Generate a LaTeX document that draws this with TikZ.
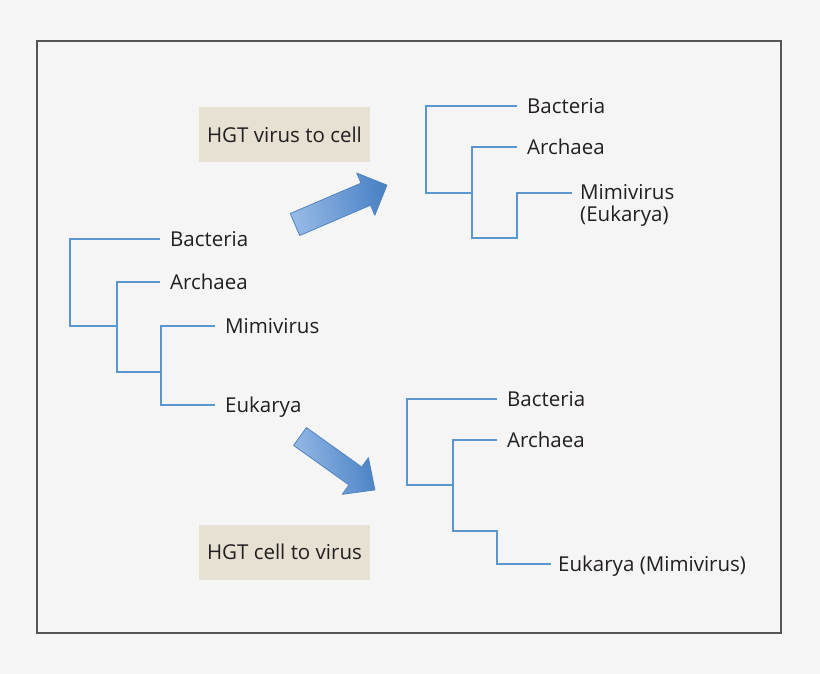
\documentclass[tikz,border=0pt]{standalone}
\usepackage{fontspec}
\setmainfont{Open Sans}
\definecolor{bgc}{HTML}{F5F5F5}
\definecolor{framec}{HTML}{555555}
\definecolor{treeblue}{HTML}{5A97D0}
\definecolor{boxfill}{HTML}{E6E1D2}
\definecolor{txt}{HTML}{231F20}
\definecolor{arrowlight}{HTML}{95B9E6}
\definecolor{arrowdark}{HTML}{4A82C4}
\definecolor{arrowedge}{HTML}{4F84C2}
\begin{document}
\begin{tikzpicture}[x=1pt,y=-1pt,
  branch/.style={draw=treeblue,line width=1.8pt},
  leaf/.style={font=\fontsize{20.5}{21}\selectfont,text=txt,inner sep=0pt,anchor=west,text height=14.6pt,text depth=0pt},
  hgtbox/.style={fill=boxfill,minimum width=171pt,minimum height=55pt,inner sep=0pt,font=\fontsize{20.5}{21}\selectfont,text=txt},
  blockarrow/.style={draw=arrowedge,line width=0.8pt,left color=arrowlight,right color=arrowdark,shading angle=100,line join=round}
]
\fill[bgc] (0,0) rectangle (820,674);
\useasboundingbox (0,0) rectangle (820,674);
\draw[framec,line width=1.3pt] (37,41) rectangle (781,633);

% left tree
\node[leaf] (lb) at (170,239) {Bacteria};
\node[leaf] (la) at (170,282) {Archaea};
\node[leaf] (lm) at (225,326) {Mimivirus};
\node[leaf] (le) at (225,405) {Eukarya};
\coordinate (L1) at (70,326);
\coordinate (L2) at (117,326);
\coordinate (L3) at (117,372);
\coordinate (L4) at (161,372);
\draw[branch] ([xshift=-10pt]lb.west) -| (L1) -- (L2);
\draw[branch] ([xshift=-10pt]la.west) -| (L3) -- (L4);
\draw[branch] ([xshift=-10pt]lm.west) -| (L4) |- ([xshift=-10pt]le.west);

% top right tree
\node[leaf] (tb) at (527,106) {Bacteria};
\node[leaf] (ta) at (527,147) {Archaea};
\node[font=\fontsize{20.5}{21.5}\selectfont,text=txt,inner sep=0pt,align=left,anchor=base west] (tm) at (580,221.5) {Mimivirus\\(Eukarya)};
\coordinate (TE) at (572,193);
\coordinate (T1) at (426,193);
\coordinate (T2) at (472,193);
\coordinate (T3) at (472,238);
\coordinate (T4) at (517,238);
\draw[branch] ([xshift=-10pt]tb.west) -| (T1) -- (T2);
\draw[branch] ([xshift=-10pt]ta.west) -| (T3) -- (T4) |- (TE);

% bottom right tree
\node[leaf] (bb) at (507,399) {Bacteria};
\node[leaf] (ba) at (507,440) {Archaea};
\node[leaf] (be) at (558,564) {Eukarya (Mimivirus)};
\coordinate (B1) at (407,485);
\coordinate (B2) at (453,485);
\coordinate (B3) at (453,531);
\coordinate (B4) at (497,531);
\draw[branch] ([xshift=-10pt]bb.west) -| (B1) -- (B2);
\draw[branch] ([xshift=-10pt]ba.west) -| (B3) -- (B4) |- ([xshift=-7pt]be.west);

% labels
\node[hgtbox] (h1) at (284.5,134.5) {HGT virus to cell};
\node[hgtbox] (h2) at (284.5,552) {HGT cell to virus};

% block arrows
\begin{scope}[shift={(295,224.5)},rotate=23.2]
  \path[blockarrow] (0,-12) -- (77,-12) -- (77,-23) -- (100,0) -- (77,23) -- (77,12) -- (0,12) -- cycle;
\end{scope}
\begin{scope}[shift={(300,436.5)},rotate=-35.5]
  \path[blockarrow] (0,-11) -- (68,-11) -- (68,-22.5) -- (92,0) -- (68,22.5) -- (68,11) -- (0,11) -- cycle;
\end{scope}
\end{tikzpicture}
\end{document}
